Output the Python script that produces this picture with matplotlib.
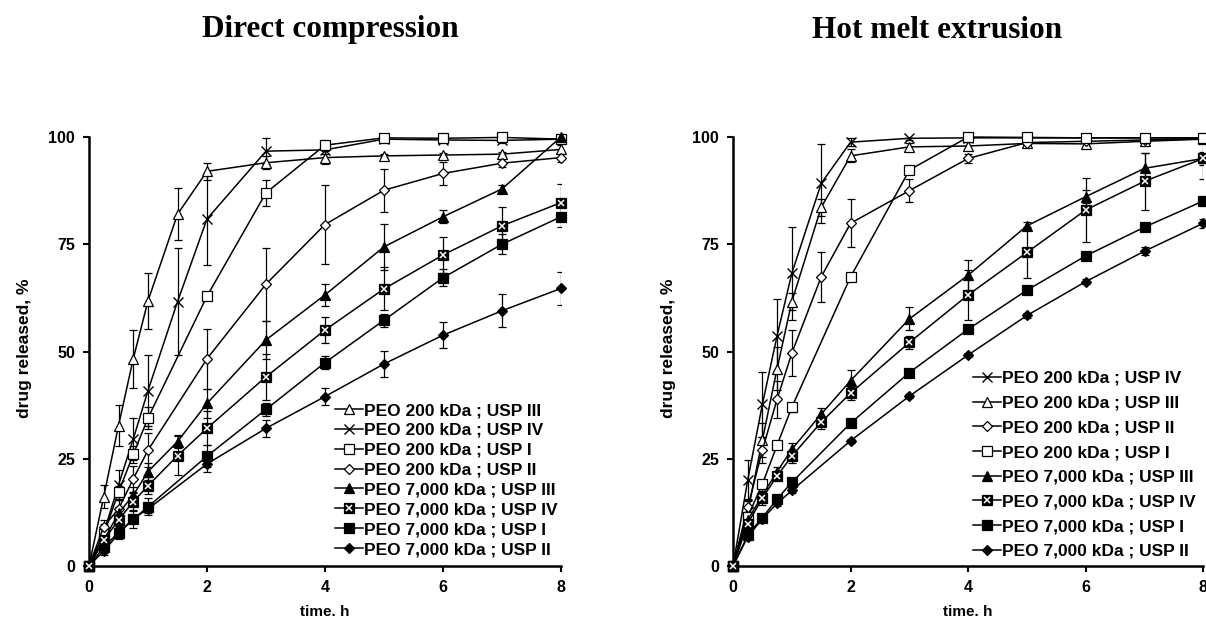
import matplotlib
matplotlib.use("Agg")
import matplotlib.pyplot as plt

plt.rcParams['font.family'] = ['Liberation Sans', 'DejaVu Sans']
plt.rcParams['font.weight'] = 'bold'

# sampling times (h)
t_flow = [0, 0.25, 0.5, 0.75, 1, 1.5, 2, 3, 4, 5, 6, 7, 8]   # with 1.5 h point
t_std = [0, 0.25, 0.5, 0.75, 1, 2, 3, 4, 5, 6, 7, 8]          # without 1.5 h point

# ---- Direct compression ----
dc_200_III = [0, 16.2, 32.7, 48.3, 61.8, 82.0, 92.0, 94.0, 95.2, 95.6, 95.8, 96.0, 97.1]
dc_200_III_sd = [0, 2.7, 4.8, 6.8, 6.5, 6.0, 2.0, 1.5, 1.5, 0.5, 0.5, 0.5, 1.0]
dc_200_IV = [0, 7.7, 18.9, 29.6, 40.9, 61.6, 80.9, 96.7, 97.0, 99.5, 99.3, 99.2, 99.5]
dc_200_IV_sd = [0, 2.0, 3.5, 5.0, 8.3, 12.5, 10.7, 3.0, 1.0, 0.5, 0.5, 0.5, 0.5]
dc_200_I = [0, 7.4, 17.2, 26.0, 34.5, 62.9, 87.0, 98.1, 99.8, 99.7, 99.9, 99.5]
dc_200_I_sd = [0, 1.0, 1.5, 2.0, 2.5, 1.0, 3.0, 1.0, 0.5, 0.5, 0.5, 0.5]
dc_200_II = [0, 9.2, 13.3, 20.3, 27.0, 48.3, 65.7, 79.6, 87.6, 91.5, 93.9, 95.2]
dc_200_II_sd = [0, 1.5, 2.0, 3.0, 4.0, 7.0, 8.5, 9.1, 5.0, 2.7, 1.0, 1.0]
dc_7000_III = [0, 6.0, 12.3, 16.5, 22.0, 29.0, 37.9, 52.7, 63.2, 74.4, 81.4, 87.9, 100.0]
dc_7000_III_sd = [0, 1.0, 1.5, 2.0, 2.0, 1.5, 3.3, 4.5, 2.5, 5.4, 1.5, 1.0, 1.0]
dc_7000_IV = [0, 6.0, 10.7, 15.0, 18.7, 25.7, 32.1, 44.1, 55.0, 64.6, 72.5, 79.3, 84.7]
dc_7000_IV_sd = [0, 1.0, 1.5, 2.0, 2.0, 4.5, 4.0, 5.4, 3.0, 5.0, 4.3, 4.3, 4.3]
dc_7000_I = [0, 4.4, 7.8, 10.9, 13.8, 25.6, 36.5, 47.4, 57.3, 67.2, 75.0, 81.4]
dc_7000_I_sd = [0, 1.0, 1.5, 2.0, 2.0, 2.5, 1.5, 1.5, 1.5, 2.0, 2.3, 2.3]
dc_7000_II = [0, 3.5, 7.5, 11.0, 13.3, 23.8, 32.1, 39.5, 47.1, 53.8, 59.5, 64.7]
dc_7000_II_sd = [0, 1.0, 1.0, 1.0, 1.0, 2.0, 2.0, 2.0, 3.0, 3.0, 3.9, 3.9]

# ---- Hot melt extrusion ----
hme_200_IV = [0, 20.0, 37.7, 53.7, 68.2, 89.2, 98.8, 99.7, 99.8, 99.8, 99.8, 99.8, 99.8]
hme_200_IV_sd = [0, 4.8, 7.6, 8.5, 10.9, 9.2, 1.0, 0.5, 0.5, 0.5, 0.5, 0.5, 0.5]
hme_200_III = [0, 12.5, 29.4, 46.0, 61.6, 83.6, 95.6, 97.7, 97.9, 98.5, 98.4, 99.0, 99.5]
hme_200_III_sd = [0, 3.0, 4.0, 5.0, 2.0, 2.0, 1.5, 1.0, 1.0, 0.5, 0.5, 0.5, 0.5]
hme_200_II = [0, 13.7, 27.0, 38.9, 49.6, 67.4, 79.9, 87.5, 95.0, 98.7, 99.0, 99.3, 99.6]
hme_200_II_sd = [0, 2.0, 3.0, 4.3, 5.4, 5.8, 5.6, 2.7, 1.0, 0.5, 0.5, 0.5, 0.5]
hme_200_I = [0, 11.5, 19.1, 28.2, 37.0, 67.4, 92.3, 100.0, 99.9, 99.8, 99.8, 99.8]
hme_200_I_sd = [0, 1.0, 1.0, 1.0, 1.0, 1.0, 1.0, 0.5, 0.5, 0.5, 0.5, 0.5]
hme_7000_III = [0, 10.7, 16.5, 22.0, 27.2, 35.4, 43.2, 57.6, 67.8, 79.3, 86.1, 92.7, 95.0]
hme_7000_III_sd = [0, 1.0, 1.0, 1.0, 1.5, 1.5, 2.6, 2.7, 3.5, 1.0, 1.5, 3.5, 1.5]
hme_7000_IV = [0, 9.9, 15.8, 21.0, 25.6, 33.5, 40.3, 52.1, 63.2, 73.1, 83.0, 89.7, 95.0]
hme_7000_IV_sd = [0, 1.0, 1.5, 1.0, 1.5, 1.5, 1.5, 1.5, 5.9, 6.0, 7.4, 6.6, 4.9]
hme_7000_I = [0, 7.2, 11.3, 15.6, 19.5, 33.3, 45.1, 55.2, 64.3, 72.3, 79.0, 85.1]
hme_7000_I_sd = [0, 0.5, 0.5, 0.5, 0.5, 0.5, 0.5, 0.5, 0.5, 0.5, 0.5, 0.5]
hme_7000_II = [0, 6.8, 11.0, 14.6, 17.6, 29.2, 39.6, 49.2, 58.4, 66.3, 73.4, 79.9]
hme_7000_II_sd = [0, 0.5, 0.5, 0.5, 0.5, 0.5, 0.5, 0.5, 0.5, 0.5, 1.0, 1.0]

# marker style per series type
styles = {
    '200_III': dict(marker='^', mfc='white', ms=7.5),
    '200_IV': dict(marker='x', mfc='white', ms=7.5, mew=1.0),
    '200_I': dict(marker='s', mfc='white', ms=6.8),
    '200_II': dict(marker='D', mfc='white', ms=5.2),
    '7000_III': dict(marker='^', mfc='black', ms=7.5),
    '7000_IV': dict(marker='s', mfc='black', ms=7.0),
    '7000_I': dict(marker='s', mfc='black', ms=6.8),
    '7000_II': dict(marker='D', mfc='black', ms=5.2),
}

dc_series = [
    ('200_III', 'PEO 200 kDa ; USP III', t_flow, dc_200_III, dc_200_III_sd),
    ('200_IV', 'PEO 200 kDa ; USP IV', t_flow, dc_200_IV, dc_200_IV_sd),
    ('200_I', 'PEO 200 kDa ; USP I', t_std, dc_200_I, dc_200_I_sd),
    ('200_II', 'PEO 200 kDa ; USP II', t_std, dc_200_II, dc_200_II_sd),
    ('7000_III', 'PEO 7,000 kDa ; USP III', t_flow, dc_7000_III, dc_7000_III_sd),
    ('7000_IV', 'PEO 7,000 kDa ; USP IV', t_flow, dc_7000_IV, dc_7000_IV_sd),
    ('7000_I', 'PEO 7,000 kDa ; USP I', t_std, dc_7000_I, dc_7000_I_sd),
    ('7000_II', 'PEO 7,000 kDa ; USP II', t_std, dc_7000_II, dc_7000_II_sd),
]

hme_series = [
    ('200_IV', 'PEO 200 kDa ; USP IV', t_flow, hme_200_IV, hme_200_IV_sd),
    ('200_III', 'PEO 200 kDa ; USP III', t_flow, hme_200_III, hme_200_III_sd),
    ('200_II', 'PEO 200 kDa ; USP II', t_flow, hme_200_II, hme_200_II_sd),
    ('200_I', 'PEO 200 kDa ; USP I', t_std, hme_200_I, hme_200_I_sd),
    ('7000_III', 'PEO 7,000 kDa ; USP III', t_flow, hme_7000_III, hme_7000_III_sd),
    ('7000_IV', 'PEO 7,000 kDa ; USP IV', t_flow, hme_7000_IV, hme_7000_IV_sd),
    ('7000_I', 'PEO 7,000 kDa ; USP I', t_std, hme_7000_I, hme_7000_I_sd),
    ('7000_II', 'PEO 7,000 kDa ; USP II', t_std, hme_7000_II, hme_7000_II_sd),
]

fig = plt.figure(figsize=(12.06, 6.29), dpi=100)
W, H = 1206, 629


def add_axes(x0, x1, y_top, y_bot):
    return fig.add_axes([x0 / W, (H - y_bot) / H, (x1 - x0) / W, (y_bot - y_top) / H])


def draw(ax, series, legend_anchor, labelspacing):
    handles = []
    for key, label, t, y, sd in series:
        st = styles[key]
        ax.errorbar(t, y, yerr=sd, fmt='none', ecolor='black', elinewidth=0.9,
                    capsize=3, capthick=0.9, zorder=2)
        ln, = ax.plot(t, y, color='black', lw=1.1, marker=st['marker'], ms=st['ms'],
                      mfc=st['mfc'], mec='black', mew=st.get('mew', 0.9), zorder=3,
                      clip_on=False)
        if key == '7000_IV':
            xm, = ax.plot(t, y, ls='none', marker='x', ms=5, mec='white', mew=1.1,
                          zorder=4, clip_on=False)
            handles.append(((ln, xm), label))
        else:
            handles.append((ln, label))
    ax.set_xlim(0, 8)
    ax.set_ylim(0, 100)
    ax.set_xticks([0, 2, 4, 6, 8])
    ax.set_yticks([0, 25, 50, 75, 100])
    for s in ['top', 'right']:
        ax.spines[s].set_visible(False)
    for s in ['left', 'bottom']:
        ax.spines[s].set_linewidth(1.8)
    ax.tick_params(direction='out', length=4, width=1.5, labelsize=11.5, pad=6)
    for lab in ax.get_xticklabels() + ax.get_yticklabels():
        lab.set_fontweight('bold')
    ax.legend([h for h, _ in handles], [l for _, l in handles],
              loc='upper left', bbox_to_anchor=legend_anchor, frameon=False,
              handlelength=1.6, handletextpad=0.05,
              labelspacing=labelspacing, borderpad=0, borderaxespad=0,
              prop={'weight': 'bold', 'size': 12.5})


ax1 = add_axes(89, 561, 137, 566)
ax2 = add_axes(733, 1203.4, 137, 566)
draw(ax1, dc_series, (0.521, 0.38), 0.27)
draw(ax2, hme_series, (0.51, 0.455), 0.55)

for ax in (ax1, ax2):
    ax.set_xlabel('time. h', fontsize=11, fontweight='bold')
    ax.set_ylabel('drug released, %', fontsize=12.5, fontweight='bold')
    ax.xaxis.set_label_coords(0.5, -0.092)
    ax.yaxis.set_label_coords(-0.121, 0.508)

fig.text(330 / W, 1 - 30 / H, 'Direct compression', ha='center', va='center',
         family='Liberation Serif', fontweight='bold', fontsize=22.5)
fig.text(937 / W, 1 - 30 / H, 'Hot melt extrusion', ha='center', va='center',
         family='Liberation Serif', fontweight='bold', fontsize=22.5)

fig.savefig('out.png', dpi=100)
